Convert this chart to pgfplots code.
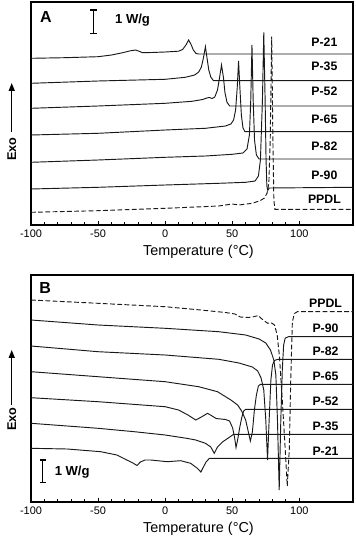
\documentclass[border=0pt]{standalone}
\usepackage{fontspec}
\setmainfont{Liberation Sans}
\usepackage{pgfplots}
\pgfplotsset{compat=1.18}
\usetikzlibrary{arrows.meta}

\pgfplotsset{
  dsc/.style={
    scale only axis, width=241.5pt,
    xmin=-100, xmax=140, y dir=reverse,
    axis line style={line width=0.9pt},
    xtick={-100,-50,0,50,100},
    xticklabels={-100,-50,0,50,100},
    minor x tick num=4,
    xtick pos=left, ytick=\empty,
    major tick length=3.2pt, minor tick length=2pt,
    tick style={line width=0.7pt, black},
    tick label style={font=\fontsize{8.2}{9}\selectfont},
    xlabel={Temperature (°C)},
    xlabel style={font=\fontsize{10.8}{12}\selectfont, at={(axis description cs:0.52,0)}, anchor=center, yshift=-20pt},
    cycle list={black!90, no markers, line width=0.7pt\\},
  },
}
\tikzset{
  lbl/.style={font=\fontsize{9.2}{10}\bfseries\selectfont, anchor=center},
  dsh/.style={dash pattern=on 3.6pt off 1.8pt},
}

\begin{document}
\begin{tikzpicture}
\useasboundingbox (0,0) rectangle (267pt,405pt);

% ---- Panel A (cooling) ----
\begin{axis}[dsc, at={(23.25pt,236.25pt)}, anchor=south west, height=167.25pt, ymin=2, ymax=225]
% P-21
\addplot coordinates {(-100,58.3) (-75,57.7) (-50,56.7) (-40,55) (-32,52.8) (-26,50.8) (-22,50) (-19,51.5) (-17,52.7) (-10,52.5) (0,52) (10,51.2) (13,49.5) (15.5,45) (17.5,40) (19.5,45) (21,50) (23,53.5) (25,54) (140,54)};
% P-35
\addplot coordinates {(-100,83.3) (-50,81) (0,79.3) (15,77.3) (22,75) (25,72) (27,67) (28.5,58) (30,46.7) (31.2,58) (32.5,70) (34,77) (36,80.7) (140,80.7)};
% P-52
\addplot coordinates {(-100,108.3) (-50,106) (0,103.3) (20,101.3) (28,99.5) (31,98) (33,97.5) (35,98.5) (37,97) (39,90) (40.5,78) (42,65) (43.5,78) (44.5,92) (46,102) (48,106) (140,106)};
% P-65
\addplot coordinates {(-100,135) (-50,133.3) (0,130) (30,128.3) (45,126) (49,124) (51,120) (52.5,110) (53.7,88) (54.7,61) (55.7,88) (56.8,115) (58,128) (59.5,131.7) (140,131.7)};
% P-82
\addplot coordinates {(-100,162.3) (-50,160) (0,157.3) (30,156) (50,154.3) (58,153) (61,149) (62.8,135) (63.8,100) (64.7,45) (65.6,100) (66.6,140) (68,155) (70,159) (140,159)};
% P-90
\addplot coordinates {(-100,189) (-50,187.3) (0,185) (40,183.3) (60,182.3) (67,181) (69.5,176) (71,160) (72.5,100) (73.5,32.3) (74.5,100) (75.2,160) (75.8,186) (76.5,190.5) (77.5,188) (140,187.3)};
% PPDL
\addplot+[dsh] coordinates {(-100,212.3) (-50,210.7) (0,208.3) (40,206) (50,204) (55,205) (65,203.3) (71,200.5) (74,198) (76,193) (77.3,183) (78.3,140) (79.4,36.7) (80.3,140) (81,200) (81.8,209.3) (140,209.3)};

\node[font=\fontsize{12}{12}\bfseries\selectfont] at (axis cs:-88.8,17) {A};
\draw[line width=0.8pt] (axis cs:-53.3,10) -- (axis cs:-53.3,33.3)
  (axis cs:-55.9,10) -- (axis cs:-50.7,10) (axis cs:-55.9,33.3) -- (axis cs:-50.7,33.3);
\node[anchor=west, font=\fontsize{9.8}{10}\bfseries\selectfont] at (axis cs:-40.8,20) {1 W/g};
\node[lbl] at (axis cs:118.7,42.7) {P-21};
\node[lbl] at (axis cs:118.7,66.7) {P-35};
\node[lbl] at (axis cs:118.7,91) {P-52};
\node[lbl] at (axis cs:118.7,119) {P-65};
\node[lbl] at (axis cs:118.7,146.7) {P-82};
\node[lbl] at (axis cs:118.7,175) {P-90};
\node[lbl] at (axis cs:118.7,199.3) {PPDL};
\end{axis}

% ---- Panel B (heating) ----
\begin{axis}[dsc, at={(23.25pt,28.5pt)}, anchor=south west, height=170.25pt, ymin=275, ymax=502]
% PPDL
\addplot+[dsh] coordinates {(-100,300) (-50,303.3) (0,306.7) (26.6,310) (45,312.5) (52,314) (56,317) (62,317.5) (66,316.7) (69.5,315.5) (71.5,318.3) (74,321) (76.5,323.3) (79,322.7) (81.5,325) (83.5,335) (85.2,356.7) (87.3,400) (89.5,450) (91,486) (92.5,450) (93.6,380) (94.8,322) (96.3,313.5) (98.5,311.7) (140,311.7)};
% P-90
\addplot coordinates {(-100,320) (-50,325) (0,328.3) (40,331.7) (60,335) (70,339) (75,343) (78.5,350) (81,360) (82.5,375) (83.7,420) (85,490) (86.2,420) (87.3,370) (88.3,345) (89.5,338) (92,336.7) (140,336.7)};
% P-82
\addplot coordinates {(-100,346) (-50,351.7) (0,355) (40,359.3) (55,363) (65,367) (69,371) (71.5,378) (73.5,390) (75,420) (76.3,460) (77.5,420) (78.8,380) (80,365) (81.5,360.5) (84,359.3) (140,359.3)};
% P-65
\addplot coordinates {(-100,371.7) (-50,376.7) (0,381.7) (25,386.7) (39,391.7) (49,400) (54,405) (57,411) (60,420) (62,432) (63.5,441) (65,432) (66.5,410) (68,395) (69.5,386) (71,384.3) (140,384.3)};
% P-52
\addplot coordinates {(-100,397.7) (-50,401.7) (0,406.7) (10,410) (17,415) (22.8,420) (27,417) (31.6,413.3) (35,416) (38,418.5) (45,419.5) (48,421) (50.3,428) (51.8,438) (52.8,447.5) (54,440) (55.5,428) (57,418) (58.5,411) (60,409.3) (140,409.3)};
% P-35
\addplot coordinates {(-100,423.3) (-50,428.3) (-23,431.7) (0,435) (16,438.3) (22.8,440) (30,443.3) (34,447) (36.6,453.3) (39,447) (43,441.7) (47.6,437.5) (51,434.3) (140,434.3)};
% P-21
\addplot coordinates {(-100,448.3) (-73,449) (-48,451.7) (-36,455) (-28.6,460) (-24,463) (-21,465.5) (-18.5,462) (-15,460) (-10.8,460) (1.6,461.7) (11.6,460.7) (19,463.3) (24,468.3) (26.6,472) (28.5,467) (30.5,462) (33,458.3) (140,458.3)};

\node[font=\fontsize{12}{12}\bfseries\selectfont] at (axis cs:-89.5,288.3) {B};
\draw[line width=0.8pt] (axis cs:-91.2,460) -- (axis cs:-91.2,482.3)
  (axis cs:-93.4,460) -- (axis cs:-89,460) (axis cs:-93.4,482.3) -- (axis cs:-89,482.3);
\node[anchor=west, font=\fontsize{9.8}{10}\bfseries\selectfont] at (axis cs:-85.8,471.7) {1 W/g};
\node[lbl] at (axis cs:119.5,303.3) {PPDL};
\node[lbl] at (axis cs:119.5,328.3) {P-90};
\node[lbl] at (axis cs:119.5,351.7) {P-82};
\node[lbl] at (axis cs:119.5,376.7) {P-65};
\node[lbl] at (axis cs:119.5,401.7) {P-52};
\node[lbl] at (axis cs:119.5,426.7) {P-35};
\node[lbl] at (axis cs:119.5,451.7) {P-21};
\end{axis}

% Exo arrows (y labels)
\node[rotate=90, font=\fontsize{9.5}{10}\bfseries\selectfont] at (8.8pt,293.25pt) {Exo};
\draw[line width=1.1pt, -{Triangle[length=6pt,width=4.5pt]}] (8.8pt,306pt) -- (8.8pt,342.75pt);
\node[rotate=90, font=\fontsize{9.5}{10}\bfseries\selectfont] at (8.8pt,90.75pt) {Exo};
\draw[line width=1.1pt, -{Triangle[length=6pt,width=4.5pt]}] (8.8pt,101.25pt) -- (8.8pt,142.5pt);
\end{tikzpicture}
\end{document}
